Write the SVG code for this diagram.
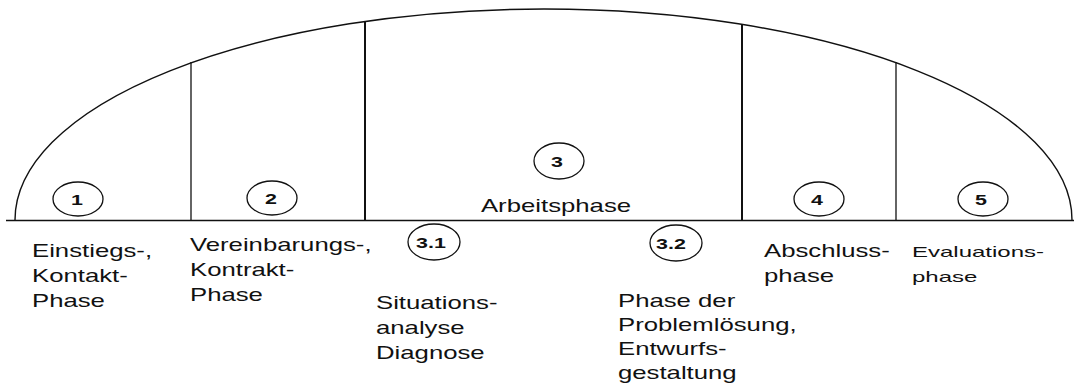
<svg xmlns="http://www.w3.org/2000/svg" width="1074" height="385" viewBox="0 0 1074 385">
<style>
.t{font-family:"Liberation Sans",Arial,sans-serif;font-size:18px;fill:#111}
.s{font-size:15px}
.n{font-family:"Liberation Sans",Arial,sans-serif;font-size:15px;font-weight:bold;fill:#111;text-anchor:middle}
.c{fill:none;stroke:#111;stroke-width:1.3}
.ln{fill:none;stroke:#111}
</style>
<rect width="1074" height="385" fill="#fff"/>
<g id="frame">
<path class="ln" stroke-width="1.4" d="M15 220 A529 211 0 0 1 544 9 A528 211 0 0 1 1072 220"/>
<line class="ln" stroke-width="1.6" x1="6" y1="220.5" x2="1074" y2="220.5"/>
<line class="ln" stroke-width="1.3" x1="191" y1="62" x2="191" y2="220"/>
<line class="ln" stroke-width="2" x1="365" y1="21" x2="365" y2="220"/>
<line class="ln" stroke-width="2" x1="742" y1="24" x2="742" y2="220"/>
<line class="ln" stroke-width="1.3" x1="896" y1="62" x2="896" y2="220"/>
</g>
<g id="phase1">
<ellipse class="c" cx="78" cy="199" rx="25" ry="17"/>
<text class="n" transform="translate(77,205) scale(1.43,1)">1</text>
<text class="t" transform="translate(32,257) scale(1.43,1)"><tspan x="0" y="0">Einstiegs-,</tspan><tspan x="0" y="25">Kontakt-</tspan><tspan x="0" y="50">Phase</tspan></text>
</g>
<g id="phase2">
<ellipse class="c" cx="272" cy="198" rx="25" ry="17"/>
<text class="n" transform="translate(271,204) scale(1.43,1)">2</text>
<text class="t" transform="translate(190,251) scale(1.43,1)"><tspan x="0" y="0">Vereinbarungs-,</tspan><tspan x="0" y="25">Kontrakt-</tspan><tspan x="0" y="50">Phase</tspan></text>
</g>
<g id="phase3">
<ellipse class="c" cx="559" cy="161" rx="25" ry="18"/>
<text class="n" transform="translate(557,167) scale(1.43,1)">3</text>
<text class="t" transform="translate(556,212) scale(1.43,1)" text-anchor="middle">Arbeitsphase</text>
</g>
<g id="phase31">
<ellipse class="c" cx="434" cy="242" rx="26" ry="18"/>
<text class="n" transform="translate(431,248) scale(1.43,1)">3.1</text>
<text class="t" transform="translate(376,309) scale(1.43,1)"><tspan x="0" y="0">Situations-</tspan><tspan x="0" y="25">analyse</tspan><tspan x="0" y="50">Diagnose</tspan></text>
</g>
<g id="phase32">
<ellipse class="c" cx="676" cy="243" rx="26" ry="18"/>
<text class="n" transform="translate(671,249) scale(1.43,1)">3.2</text>
<text class="t" transform="translate(618,307) scale(1.43,1)"><tspan x="0" y="0">Phase der</tspan><tspan x="0" y="24">Problemlösung,</tspan><tspan x="0" y="48">Entwurfs-</tspan><tspan x="0" y="72">gestaltung</tspan></text>
</g>
<g id="phase4">
<ellipse class="c" cx="819" cy="199" rx="25" ry="17"/>
<text class="n" transform="translate(817,205) scale(1.43,1)">4</text>
<text class="t" transform="translate(764,257) scale(1.43,1)"><tspan x="0" y="0">Abschluss-</tspan><tspan x="0" y="25">phase</tspan></text>
</g>
<g id="phase5">
<ellipse class="c" cx="983" cy="199" rx="25" ry="17"/>
<text class="n" transform="translate(981,205) scale(1.43,1)">5</text>
<text class="t s" transform="translate(912,257) scale(1.6,1)"><tspan x="0" y="0">Evaluations-</tspan><tspan x="0" y="25">phase</tspan></text>
</g>
</svg>
